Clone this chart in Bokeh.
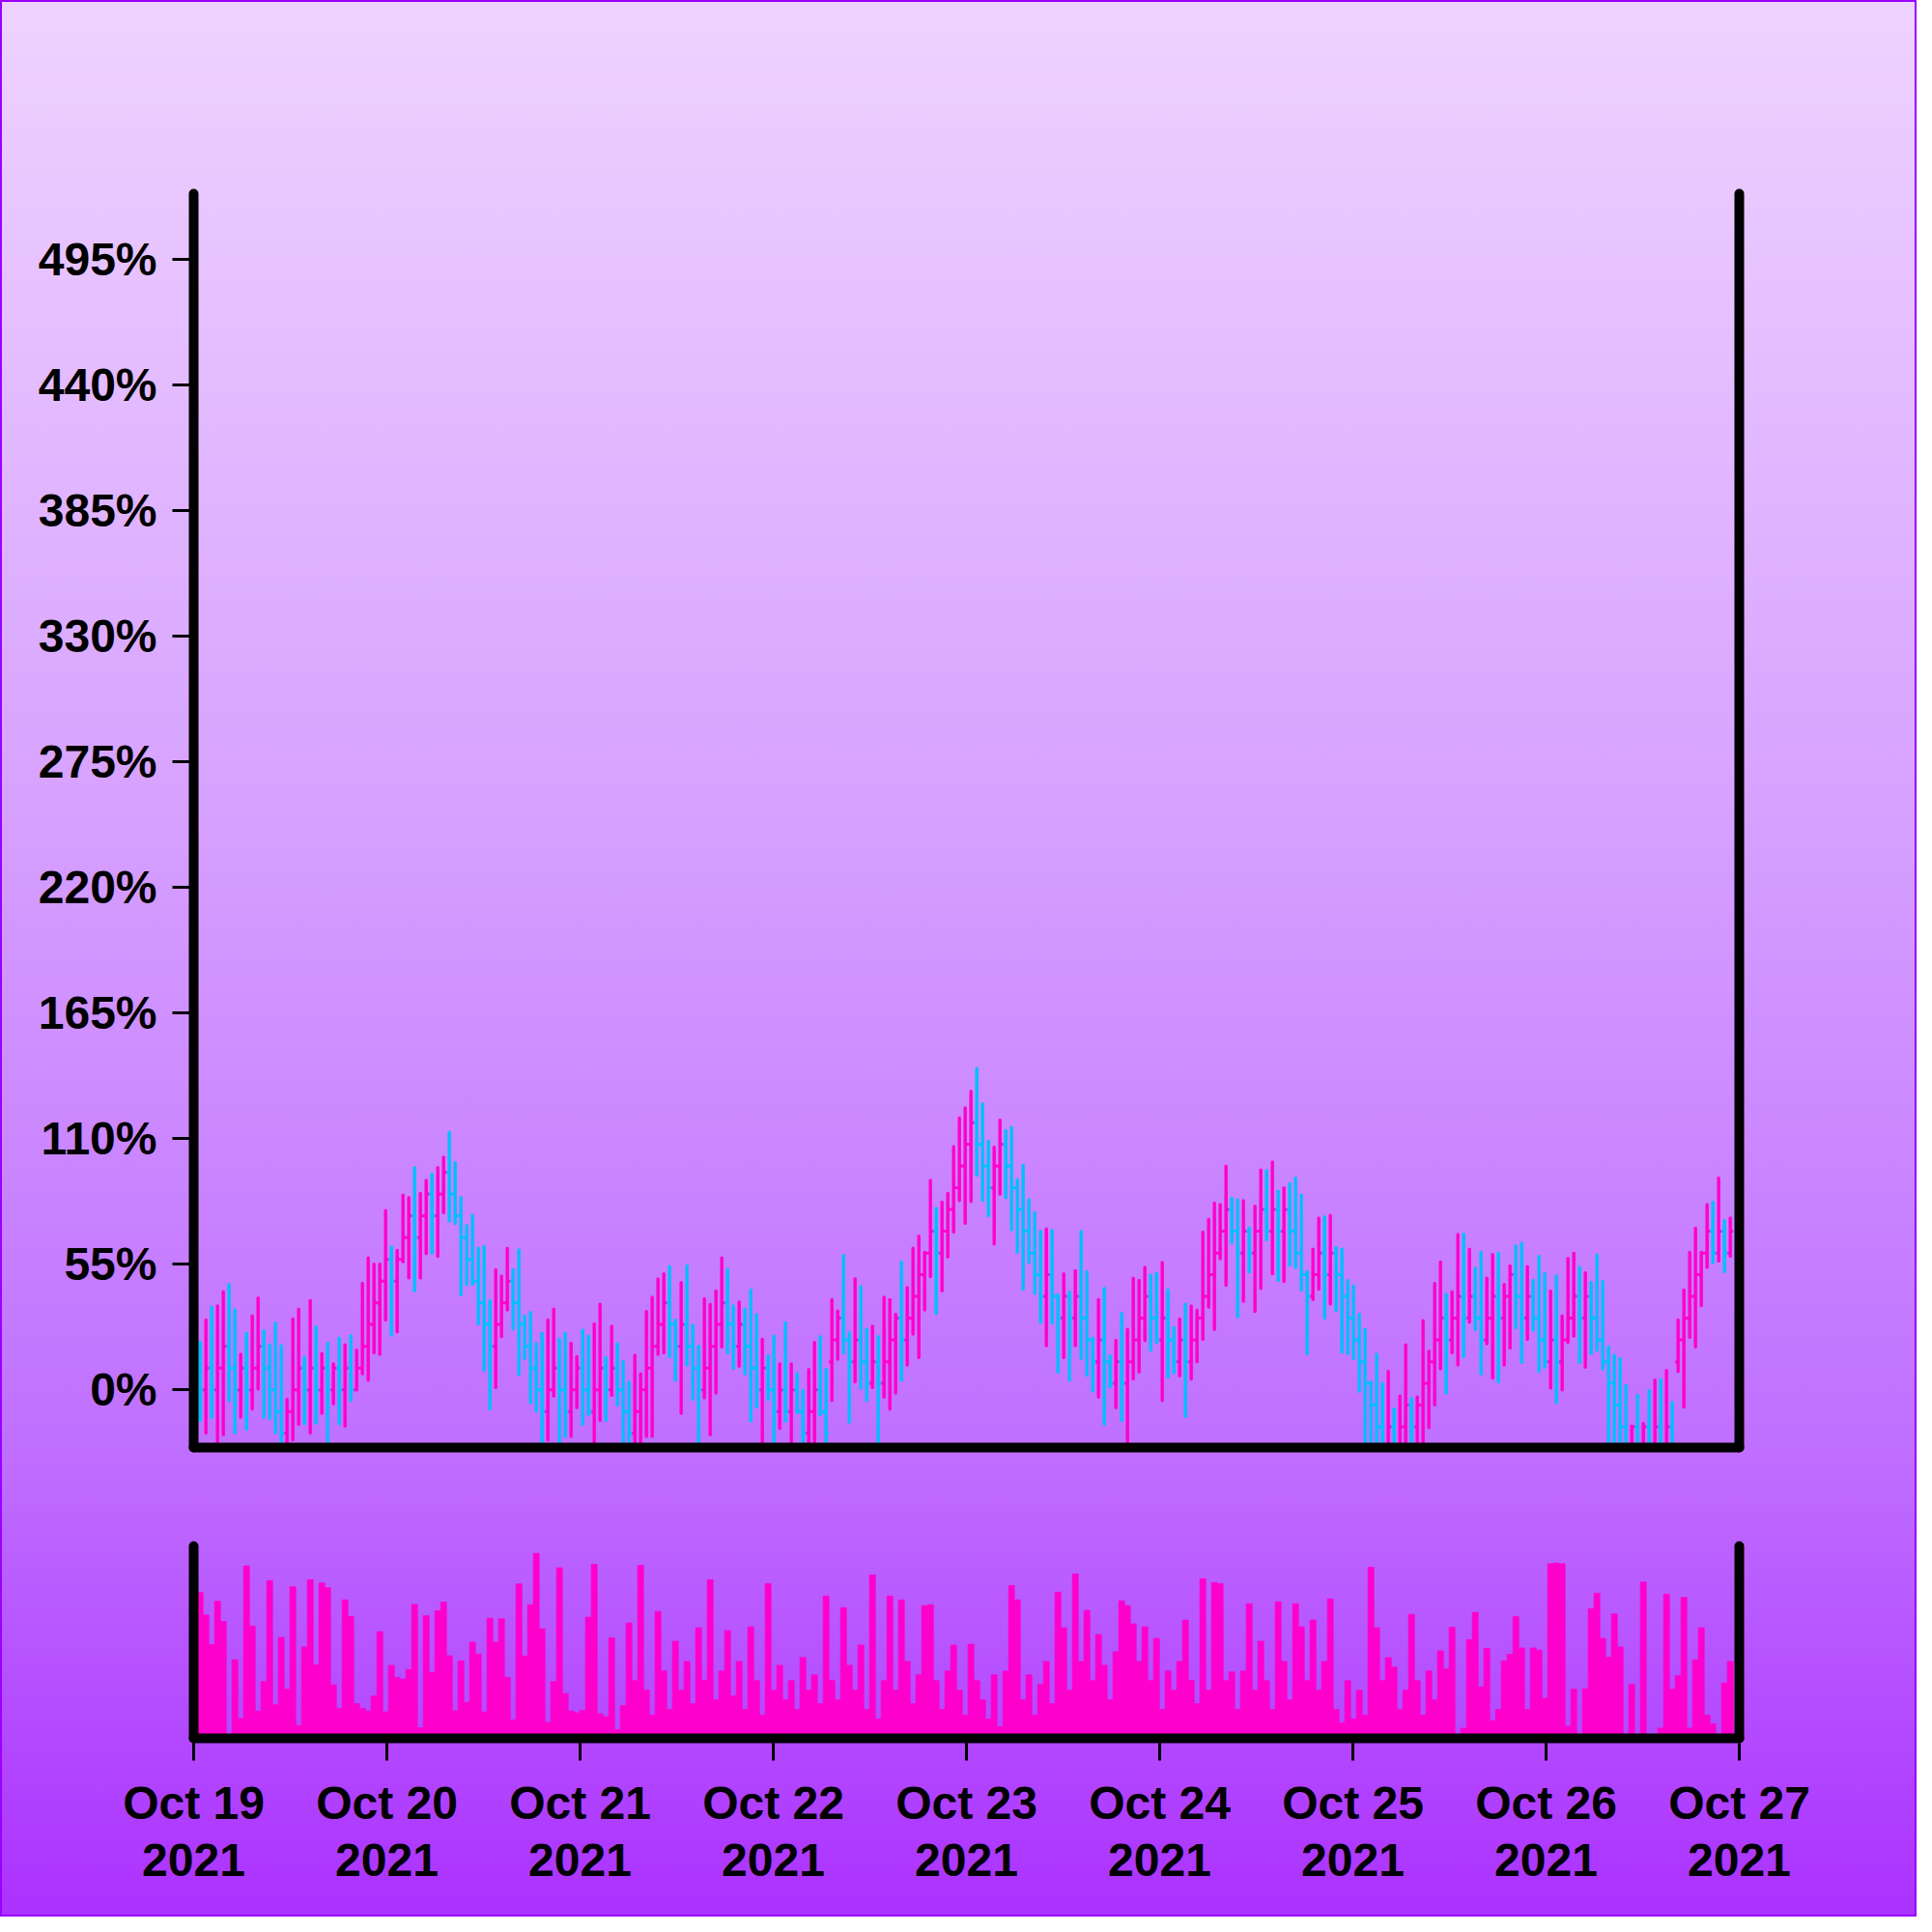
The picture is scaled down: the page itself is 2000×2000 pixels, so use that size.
import datetime as dt
from bokeh.plotting import figure
from bokeh.layouts import column
from bokeh.models import (Range1d, LinearAxis, FixedTicker, CustomJSTickFormatter,
                          PrintfTickFormatter, ColumnDataSource)
from bokeh.embed import file_html
from bokeh.resources import INLINE

# ---------------- data ----------------
start_time = dt.datetime(2021, 10, 19, 0, 48)
bar_interval_min = 43.2
y_ticks = [0, 55, 110, 165, 220, 275, 330, 385, 440, 495]
x_ticks = [dt.datetime(2021, 10, d) for d in range(19, 28)]

open_pct = [
    9.5, 0.0, 9.5, 0.0, 9.5, 19.0, 9.5, 0.0, 9.5, 0.0,
    9.5, 19.0, 9.5, 0.0, -9.5, -19.0, -9.5, 0.0, 9.5, 0.0,
    9.5, 0.0, 9.5, 0.0, 9.5, 0.0, 9.5, 0.0, 9.5, 19.0,
    28.6, 38.1, 47.6, 57.1, 47.6, 57.1, 66.7, 76.2, 66.7, 76.2,
    85.7, 76.2, 85.7, 95.2, 85.7, 76.2, 66.7, 57.1, 47.6, 38.1,
    28.6, 19.0, 28.6, 38.1, 47.6, 38.1, 28.6, 19.0, 9.5, 0.0,
    -9.5, 0.0, 9.5, 0.0, -9.5, 0.0, 9.5, 0.0, -9.5, 0.0,
    9.5, 0.0, 9.5, 0.0, -9.5, -19.0, -9.5, 0.0, 9.5, 19.0,
    28.6, 38.1, 28.6, 19.0, 28.6, 19.0, 9.5, 0.0, 9.5, 19.0,
    28.6, 38.1, 28.6, 19.0, 28.6, 19.0, 9.5, 0.0, 9.5, 0.0,
    -9.5, 0.0, -9.5, 0.0, -9.5, -19.0, -9.5, 0.0, -9.5,
    12.3, 21.9, 31.4, 21.9, 12.3, 21.9, 12.3, 2.8, 12.3, 2.8,
    12.3, 21.9, 31.4, 21.9, 31.4, 40.9, 50.4, 59.9, 69.5, 59.9,
    69.5, 79.0, 88.5, 98.0, 107.5, 117.0, 107.5, 98.0, 88.5, 98.0,
    107.5, 98.0, 88.5, 79.0, 69.5, 59.9, 50.4, 40.9, 50.4, 40.9,
    31.4, 40.9, 31.4, 40.9, 31.4, 21.9, 12.3, 21.9, 12.3, 2.8,
    12.3, 2.8, 12.3, 21.9, 31.4, 40.9, 31.4, 21.9, 31.4, 21.9,
    12.3, 21.9, 12.3, 21.9, 31.4, 40.9, 50.4, 59.9, 69.5, 79.0,
    69.5, 59.9, 69.5, 59.9, 69.5, 79.0, 69.5, 79.0, 69.5, 79.0,
    69.5, 59.9, 50.4, 40.9, 50.4, 59.9, 50.4, 59.9, 50.4, 40.9,
    31.4, 21.9, 12.3, 2.8, -6.7, -16.2, -25.8, -16.2, -25.8, -16.2,
    -6.7, -16.2, -6.7, 2.8, 12.3, 21.9, 31.4, 21.9, 31.4, 40.9,
    31.4, 40.9, 31.4, 21.9, 31.4, 40.9, 31.4, 40.9, 50.4, 40.9,
    31.4, 40.9, 31.4, 21.9, 12.3, 21.9, 12.3, 21.9, 31.4, 40.9,
    31.4, 40.9, 31.4, 21.9, 12.3, 2.8, -6.7, -16.2, -25.8, -16.2,
    -25.8, -16.2, -25.8, -16.2, -25.8, -16.2, 12.3, 21.9, 31.4, 40.9,
    50.4, 59.9, 69.5, 59.9, 69.5, 59.9,
]

close_pct = [
    0.0, 9.5, 0.0, 9.5, 19.0, 9.5, 0.0, 9.5, 0.0, 9.5,
    19.0, 9.5, 0.0, -9.5, -19.0, -9.5, 0.0, 9.5, 0.0, 9.5,
    0.0, 9.5, 0.0, 9.5, 0.0, 9.5, 0.0, 9.5, 19.0, 28.6,
    38.1, 47.6, 57.1, 47.6, 57.1, 66.7, 76.2, 66.7, 76.2, 85.7,
    76.2, 85.7, 95.2, 85.7, 76.2, 66.7, 57.1, 47.6, 38.1, 28.6,
    19.0, 28.6, 38.1, 47.6, 38.1, 28.6, 19.0, 9.5, 0.0, -9.5,
    0.0, 9.5, 0.0, -9.5, 0.0, 9.5, 0.0, -9.5, 0.0, 9.5,
    0.0, 9.5, 0.0, -9.5, -19.0, -9.5, 0.0, 9.5, 19.0, 28.6,
    38.1, 28.6, 19.0, 28.6, 19.0, 9.5, 0.0, 9.5, 19.0, 28.6,
    38.1, 28.6, 19.0, 28.6, 19.0, 9.5, 0.0, 9.5, 0.0, -9.5,
    0.0, -9.5, 0.0, -9.5, -19.0, -9.5, 0.0, -9.5, -19.0,
    21.9, 31.4, 21.9, 12.3, 21.9, 12.3, 2.8, 12.3, 2.8, 12.3,
    21.9, 31.4, 21.9, 31.4, 40.9, 50.4, 59.9, 69.5, 59.9, 69.5,
    79.0, 88.5, 98.0, 107.5, 117.0, 107.5, 98.0, 88.5, 98.0, 107.5,
    98.0, 88.5, 79.0, 69.5, 59.9, 50.4, 40.9, 50.4, 40.9, 31.4,
    40.9, 31.4, 40.9, 31.4, 21.9, 12.3, 21.9, 12.3, 2.8, 12.3,
    2.8, 12.3, 21.9, 31.4, 40.9, 31.4, 21.9, 31.4, 21.9, 12.3,
    21.9, 12.3, 21.9, 31.4, 40.9, 50.4, 59.9, 69.5, 79.0, 69.5,
    59.9, 69.5, 59.9, 69.5, 79.0, 69.5, 79.0, 69.5, 79.0, 69.5,
    59.9, 50.4, 40.9, 50.4, 59.9, 50.4, 59.9, 50.4, 40.9, 31.4,
    21.9, 12.3, 2.8, -6.7, -16.2, -25.8, -16.2, -25.8, -16.2, -6.7,
    -16.2, -6.7, 2.8, 12.3, 21.9, 31.4, 21.9, 31.4, 40.9, 31.4,
    40.9, 31.4, 21.9, 31.4, 40.9, 31.4, 40.9, 50.4, 40.9, 31.4,
    40.9, 31.4, 21.9, 12.3, 21.9, 12.3, 21.9, 31.4, 40.9, 31.4,
    40.9, 31.4, 21.9, 12.3, 2.8, -6.7, -16.2, -25.8, -16.2, -25.8,
    -16.2, -25.8, -16.2, -25.8, -16.2, -25.8, 21.9, 31.4, 40.9, 50.4,
    59.9, 69.5, 59.9, 69.5, 59.9, 69.5,
]

high_pct = [
    20.7, 30.6, 36.2, 36.7, 43.0, 46.1, 35.0, 15.5, 24.7, 32.4,
    40.2, 25.8, 19.7, 29.2, 19.3, -4.2, 31.0, 35.3, 14.1, 39.0,
    27.5, 15.9, 20.4, 11.3, 22.6, 19.7, 23.7, 17.3, 46.5, 57.8,
    55.0, 55.0, 78.5, 62.5, 61.0, 85.3, 84.2, 97.3, 86.0, 91.7,
    94.5, 97.3, 101.9, 112.8, 99.4, 84.2, 71.9, 76.4, 62.0, 62.7,
    39.0, 52.6, 49.8, 62.0, 52.6, 61.3, 32.4, 33.8, 20.2, 24.7,
    30.6, 35.3, 22.1, 24.7, 20.4, 14.5, 26.1, 23.5, 28.9, 37.4,
    14.1, 27.8, 20.2, 12.3, 3.2, 15.1, 7.0, 34.3, 40.5, 48.6,
    50.8, 54.0, 30.6, 47.0, 54.3, 28.2, 19.0, 39.9, 37.4, 43.3,
    57.8, 52.6, 36.7, 38.4, 35.3, 43.7, 32.9, 22.1, 14.8, 23.5,
    11.3, 29.3, 11.3, 7.0, -0.4, 8.9, 20.7, 23.3, 8.9, 39.5,
    34.5, 58.8, 25.0, 48.6, 45.1, 26.4, 27.8, 23.3, 40.5, 39.5,
    33.1, 56.0, 44.7, 62.0, 67.3, 60.2, 91.7, 79.4, 82.2, 86.0,
    106.5, 119.1, 123.4, 130.7, 140.7, 125.2, 108.9, 106.2, 118.2, 113.5,
    114.9, 92.1, 98.3, 83.2, 77.6, 69.4, 70.5, 69.8, 41.6, 50.8,
    42.7, 52.2, 69.4, 51.7, 22.6, 39.5, 44.4, 14.8, 21.6, 33.4,
    26.4, 48.9, 47.9, 53.6, 50.1, 51.0, 55.7, 43.7, 27.2, 31.0,
    37.4, 36.7, 34.8, 69.1, 74.7, 81.8, 81.1, 98.0, 83.9, 83.2,
    82.8, 70.9, 80.4, 96.3, 95.9, 99.7, 87.0, 88.4, 90.2, 92.8,
    85.3, 51.7, 61.6, 75.2, 75.7, 76.4, 62.3, 61.6, 47.9, 45.5,
    33.1, 26.4, 3.5, 15.5, 2.8, 8.0, -8.5, -2.8, 19.7, -3.8,
    -3.2, 30.3, 16.9, 46.5, 56.0, 41.9, 43.0, 68.0, 68.1, 61.6,
    53.2, 60.2, 48.9, 59.2, 59.9, 46.1, 54.3, 63.0, 64.2, 54.0,
    47.9, 58.5, 50.8, 43.3, 49.8, 32.4, 57.5, 59.9, 53.6, 51.2,
    47.0, 59.0, 47.5, 18.8, 15.1, 13.7, 1.8, -15.9, -2.4, -14.8,
    -0.4, 4.2, 4.2, 8.5, -5.6, 30.6, 43.7, 60.2, 70.8, 60.2,
    81.1, 82.1, 92.8, 74.0, 75.2,
]

low_pct = [
    -13.4, -19.0, -12.0, -23.0, -19.7, -4.7, -18.8, -12.0, -17.3, -8.5,
    0.4, -12.0, -12.7, -18.8, -30.0, -30.0, -21.9, -15.1, -14.8, -19.0,
    -14.5, -10.3, -28.0, -6.1, -14.8, -15.9, -4.7, 0.0, 7.0, 4.2,
    16.2, 15.5, 30.6, 24.0, 25.4, 56.0, 49.0, 43.3, 49.0, 59.6,
    59.9, 58.5, 77.6, 74.0, 72.9, 41.6, 46.1, 46.1, 28.9, 8.5,
    -8.5, 1.0, 23.3, 35.0, 26.8, 6.6, 13.7, -5.6, -9.4, -30.0,
    -21.9, -2.8, -28.0, -20.4, -20.4, -7.8, -15.1, -10.9, -28.0, -13.4,
    -13.4, -2.4, -6.6, -30.0, -30.0, -29.0, -28.0, -20.4, -20.4, 15.5,
    16.2, 14.5, 4.2, -10.3, 10.9, -4.2, -30.0, -3.5, -19.7, -1.4,
    18.8, 16.2, 9.4, 10.3, 7.0, -13.7, -7.5, -28.0, -4.2, -30.0,
    -16.9, -13.7, -27.0, -9.9, -30.0, -28.0, -28.0, -10.9, -30.0, -4.7,
    13.4, 16.2, -14.1, 3.5, 0.7, -4.7, 1.0, -28.0, -3.2, -8.5,
    -1.4, 4.2, 10.9, 24.4, 14.1, 35.0, 49.6, 33.4, 43.3, 58.2,
    69.1, 82.9, 72.9, 82.5, 94.0, 82.9, 76.1, 63.9, 85.7, 84.2,
    70.1, 60.2, 44.0, 55.7, 42.3, 29.6, 19.3, 29.2, 7.8, 14.1,
    4.2, 19.3, 13.7, 6.3, -0.4, -3.2, -15.1, 1.4, -7.8, -13.4,
    -30.0, 4.7, 7.8, 21.6, 17.3, 20.7, -4.7, 5.6, 7.5, 6.1,
    -11.7, 4.7, 12.3, 22.1, 36.2, 26.4, 57.4, 45.8, 64.4, 32.0,
    38.8, 51.7, 34.3, 44.4, 65.8, 50.8, 47.9, 47.5, 54.6, 53.6,
    43.7, 15.9, 39.5, 44.1, 31.4, 37.6, 34.8, 16.5, 15.9, 13.7,
    -0.7, -30.0, -30.0, -30.0, -30.0, -30.0, -30.0, -30.0, -30.0, -30.0,
    -30.0, -30.0, -16.5, -6.6, 9.2, -1.4, 16.2, 10.9, 14.5, 29.6,
    26.4, 7.0, 20.2, 5.2, 3.5, 10.9, 18.3, 27.2, 12.0, 22.1,
    26.1, 8.0, 9.9, 0.7, -5.6, 0.0, 20.7, 23.5, 12.0, 9.9,
    15.9, 17.3, 9.2, -30.0, -30.0, -30.0, -30.0, -30.0, -30.0, -30.0,
    -30.0, -30.0, -30.0, -30.0, -30.0, 8.0, -7.5, 23.0, 18.8, 36.9,
    53.6, 55.7, 56.4, 51.7, 58.5,
]

volume = [
    758, 642, 487, 713, 608, 20, 408, 103, 897, 583,
    142, 295, 820, 175, 525, 255, 788, 67, 475, 825,
    383, 808, 783, 278, 155, 720, 633, 180, 155, 142,
    220, 555, 137, 380, 317, 308, 358, 697, 55, 638,
    342, 663, 708, 430, 143, 403, 187, 500, 438, 137,
    625, 500, 622, 317, 95, 803, 428, 695, 962, 570,
    83, 295, 887, 233, 142, 133, 145, 630, 905, 128,
    112, 522, 45, 170, 600,
    300, 900, 250, 120, 660, 350, 150, 505, 250, 400,
    180, 575, 300, 825, 200, 350, 560, 220, 400, 150,
    580, 300, 120, 805, 250, 380, 200, 300, 150, 420,
    250, 330, 180, 740, 300, 200, 680, 380, 250, 485,
    150, 850, 100, 300, 740, 250, 720, 400, 180, 330,
    690, 695, 300, 150, 350, 485, 250, 120, 490, 300,
    200, 100, 330, 60, 350, 795, 720, 200, 330, 120,
    280, 400, 180, 760, 575, 250, 855, 400, 665, 300,
    540, 380, 200, 450, 715, 690, 595, 400, 580, 300,
    520, 150, 350, 250, 400, 615, 300, 180, 830, 250,
    810, 805, 300, 345, 150, 350, 700, 250, 505, 300,
    150, 710, 400, 200, 700, 580, 300, 615, 250, 400,
    725, 150, 80, 300, 100, 250, 120, 890, 575, 300,
    420, 370, 150, 250, 645, 300, 120, 350, 200, 455, 360,
    578, 20, 53, 513, 655, 267, 467, 92, 150, 403,
    437, 633, 470, 150, 470, 458, 208, 908, 912, 908,
    63, 255, 20, 258, 675, 755, 520, 422, 647, 475,
    15, 280, 15, 813, 10, 10, 53, 750, 255, 325,
    733, 53, 408, 575, 120, 75, 15, 288, 400,
]

# ---------------- styling ----------------
UP = "#FF00CC"
DOWN = "#00BFFF"
FONT = "Liberation Sans"
TICK_FONT_SIZE = "48px"

n = len(high_pct)
step = dt.timedelta(minutes=bar_interval_min)
times = [start_time + i * step for i in range(n)]
half = step / 2
colors = [UP if c > o else DOWN for o, c in zip(open_pct, close_pct)]

src = ColumnDataSource(dict(
    t=times,
    tl=[t - half for t in times],
    tr=[t + half for t in times],
    o=open_pct, h=high_pct, l=low_pct, c=close_pct,
    col=colors, vol=volume,
))

x_range = Range1d(dt.datetime(2021, 10, 19), dt.datetime(2021, 10, 27))

TOTAL = 1984
LEFT = 200
RIGHT = TOTAL - 1800
MAIN_H = 1550
VOL_H = TOTAL - MAIN_H


def style_line_axis(ax):
    ax.axis_line_width = 10
    ax.axis_line_color = "black"
    ax.axis_line_cap = "round"
    ax.minor_tick_line_color = None


def bare_axis(ax):
    style_line_axis(ax)
    ax.ticker = FixedTicker(ticks=[])
    ax.major_tick_line_color = None
    ax.major_label_text_font_size = "0px"


p = figure(width=TOTAL, height=MAIN_H, x_axis_type="datetime",
           x_range=x_range, y_range=Range1d(-25.3, 523.9),
           output_backend="svg", toolbar_location=None,
           min_border_left=LEFT, min_border_right=RIGHT,
           min_border_top=200, min_border_bottom=MAIN_H - 1498)
p.background_fill_alpha = 0
p.border_fill_alpha = 0
p.outline_line_color = None
p.grid.visible = False

yax = p.yaxis[0]
style_line_axis(yax)
yax.ticker = FixedTicker(ticks=y_ticks, minor_ticks=[])
yax.formatter = PrintfTickFormatter(format="%d%%")
yax.major_tick_out = 22
yax.major_tick_in = 0
yax.major_tick_line_width = 3
yax.major_tick_line_color = "black"
yax.major_label_standoff = 16
yax.major_label_text_font = FONT
yax.major_label_text_font_style = "bold"
yax.major_label_text_font_size = TICK_FONT_SIZE
yax.major_label_text_color = "black"

bare_axis(p.xaxis[0])
right_ax = LinearAxis()
bare_axis(right_ax)
p.add_layout(right_ax, "right")

p.segment(x0="t", y0="l", x1="t", y1="h", line_color="col", line_width=3.4,
          line_cap="round", source=src)
p.segment(x0="tl", y0="o", x1="t", y1="o", line_color="col", line_width=3,
          source=src)
p.segment(x0="t", y0="c", x1="tr", y1="c", line_color="col", line_width=3,
          source=src)

v = figure(width=TOTAL, height=VOL_H, x_axis_type="datetime",
           x_range=x_range, y_range=Range1d(0, 1000),
           output_backend="svg", toolbar_location=None,
           min_border_left=LEFT, min_border_right=RIGHT,
           min_border_top=1600 - MAIN_H, min_border_bottom=TOTAL - 1799)
v.background_fill_alpha = 0
v.border_fill_alpha = 0
v.outline_line_color = None
v.grid.visible = False

bare_axis(v.yaxis[0])
right_ax2 = LinearAxis()
bare_axis(right_ax2)
v.add_layout(right_ax2, "right")

xax = v.xaxis[0]
style_line_axis(xax)
xax.ticker = FixedTicker(ticks=[t.replace(tzinfo=dt.timezone.utc).timestamp() * 1000 for t in x_ticks], minor_ticks=[])
xax.formatter = CustomJSTickFormatter(code="""
const d = new Date(tick);
const m = ["Jan","Feb","Mar","Apr","May","Jun","Jul","Aug","Sep","Oct","Nov","Dec"][d.getUTCMonth()];
return m + " " + d.getUTCDate() + "\\n" + d.getUTCFullYear();
""")
xax.major_tick_out = 23
xax.major_tick_in = 0
xax.major_tick_line_width = 3
xax.major_tick_line_color = "black"
xax.major_label_standoff = 17
xax.major_label_text_font = FONT
xax.major_label_text_font_style = "bold"
xax.major_label_text_font_size = TICK_FONT_SIZE
xax.major_label_text_color = "black"
xax.major_label_text_line_height = 1.12

v.vbar(x="t", top="vol", bottom=0, width=step.total_seconds() * 1000,
       fill_color=UP, line_color=UP, line_width=0.8, source=src)

layout = column(p, v, styles={
    "background": "linear-gradient(180deg, #EFD3FF 0%, #D8A4FF 40%, #C070FF 75%, #AB31FF 100%)",
    "outline": "2px solid #9A00FF",
    "outline-offset": "-2px",
})

open("out.html", "w").write(file_html(layout, INLINE))
